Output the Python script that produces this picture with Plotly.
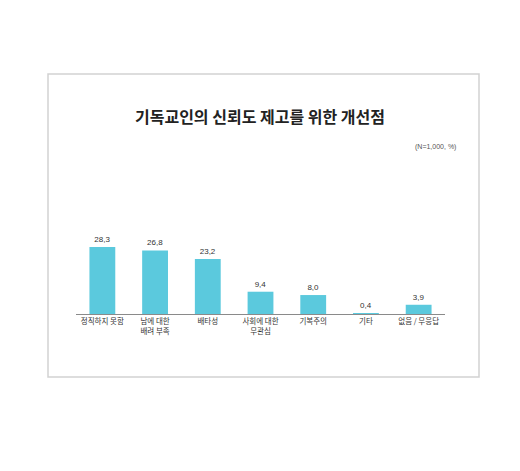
import plotly.graph_objects as go

# data
categories = ["정직하지 못함", "남에 대한<br>배려 부족", "배타성", "사회에 대한<br>무관심",
              "기복주의", "기타", "없음 / 무응답"]
values = [28.3, 26.8, 23.2, 9.4, 8.0, 0.4, 3.9]

BAR_CLR = '#5bc9dd'
TEXT_CLR = '#333333'
FONT = 'Noto Sans CJK KR'
NUM_FONT = 'Liberation Sans'

labels = [f"{v:.1f}".replace('.', ',') for v in values]

# page body has an 8px margin, so the figure is drawn 8px smaller and shifted
OFF = 8
W, H = 520 - OFF, 471 - OFF
# plot area in page px: x 76..445, baseline at 314, top at 170
L, R, T, B = 76 - OFF, 75, 170 - OFF, 157
pw = W - L - R
ph = H - T - B


def px_x(p):
    return (p - OFF - L) / pw


def px_y(p):
    return (H - B - (p - OFF)) / ph


fig = go.Figure()
fig.add_trace(go.Bar(
    x=categories, y=values, text=labels, textposition='outside',
    textfont=dict(size=8, color=TEXT_CLR, family=NUM_FONT),
    marker=dict(color=BAR_CLR, line=dict(width=0)),
    width=0.49, cliponaxis=False, hoverinfo='skip'
))

# outer frame
fig.add_shape(type='rect', xref='paper', yref='paper',
              x0=px_x(48), x1=px_x(479), y0=px_y(377), y1=px_y(74),
              line=dict(color='#d2d2d2', width=1.5), layer='below')

fig.add_annotation(text='(N=1,000, %)', xref='paper', yref='paper',
                   x=px_x(458), y=px_y(147), xanchor='right', yanchor='middle',
                   showarrow=False, font=dict(size=7, color='#555555', family=NUM_FONT))

fig.update_layout(
    width=W, height=H,
    margin=dict(l=L, r=R, t=T, b=B),
    paper_bgcolor='white', plot_bgcolor='white',
    showlegend=False,
    title=dict(text='기독교인의 신뢰도 제고를 위한 개선점',
               x=(260 - OFF) / W, xanchor='center',
               y=1 - (117 - OFF) / H, yanchor='middle',
               font=dict(size=16, color='#222222', family=FONT, weight='bold')),
    font=dict(family=FONT, color=TEXT_CLR),
    bargap=0.51,
)
fig.update_xaxes(showline=True, linecolor='#8a8a8a', linewidth=1, ticks='',
                 tickfont=dict(size=7.5, color=TEXT_CLR, family=FONT),
                 showgrid=False, fixedrange=True)
fig.update_yaxes(range=[0, ph / 2.37], visible=False, showgrid=False, fixedrange=True)

fig.write_html("out.html")
